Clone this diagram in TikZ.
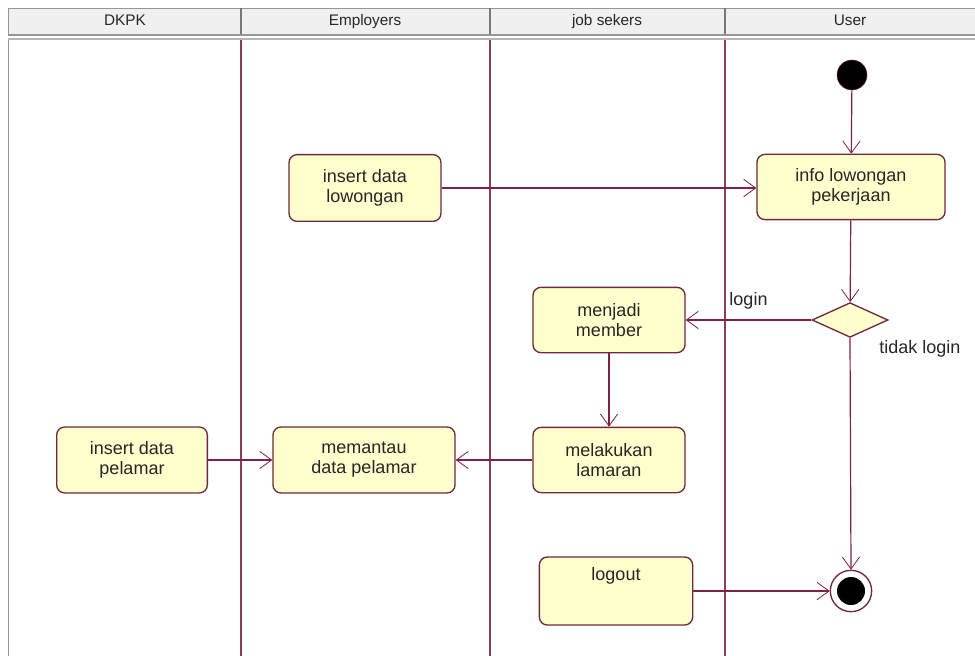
\documentclass[tikz,border=0pt]{standalone}
\usepackage{fontspec}
\setmainfont{Liberation Sans}
\usetikzlibrary{shapes.geometric,arrows.meta}
\definecolor{boxfill}{RGB}{255,255,205}
\definecolor{boxdraw}{RGB}{112,40,62}
\definecolor{flow}{RGB}{128,32,72}
\definecolor{lane}{RGB}{140,60,90}
\definecolor{headfill}{RGB}{240,240,240}
\definecolor{headdraw}{RGB}{150,150,150}
\tikzset{
  act/.style={draw=boxdraw, fill=boxfill, rounded corners=6pt, line width=1pt,
    align=center, inner sep=0pt, font=\fontsize{13.5}{15}\selectfont, text=black!85},
  flowarrow/.style={draw=flow, line width=0.9pt, -{Straight Barb[length=9pt,width=13pt,line width=0.6pt]}},
  lanetitle/.style={font=\fontsize{11.5}{13}\selectfont, text=black!85, text height=8.5pt, text depth=2.5pt, inner sep=0pt},
  lbl/.style={font=\fontsize{13.5}{15}\selectfont, text=black!85},
}
\begin{document}
\begin{tikzpicture}[x=0.75pt,y=-0.75pt]
\useasboundingbox (0,0) rectangle (975,656);
\fill[white] (0,0) rectangle (975,656);
% header
\fill[headfill] (8,8) rectangle (975,35);
\draw[headdraw, line width=0.6pt] (975,8) -- (8,8) -- (8,35);
\foreach \xx in {241,490,725} \draw[headdraw!80!black, line width=1pt] (\xx,8) -- (\xx,35);
\draw[headdraw, line width=1.5pt] (8,35.5) -- (975,35.5);
\draw[headdraw!70, line width=1pt] (8,39) -- (975,39);
\node[lanetitle] (hA) at (125,22) {DKPK};
\node[lanetitle] (hB) at (365,22) {Employers};
\node[lanetitle] (hC) at (607,22) {job sekers};
\node[lanetitle] (hD) at (850,22) {User};
% lanes
\draw[headdraw, line width=0.6pt] (8,40) -- (8,656);
\foreach \xx in {241,490,725} \draw[lane, line width=0.8pt] (\xx,40) -- (\xx,656);
% nodes
\node[circle, fill=black, draw=boxdraw, minimum size=22.5pt, inner sep=0pt] (start) at (852,75) {};
\node[act, minimum width=141pt, minimum height=49pt] (info) at (851,187) {info lowongan\\pekerjaan};
\node[act, minimum width=114pt, minimum height=50pt] (inslow) at (365,188) {insert data\\lowongan};
\node[diamond, draw=boxdraw, fill=boxfill, line width=1pt, minimum width=57pt, minimum height=26pt, inner sep=0pt] (dec) at (850,320) {};
\node[act, minimum width=114pt, minimum height=49pt] (member) at (609,320) {menjadi\\member};
\node[act, minimum width=114pt, minimum height=49pt] (lamar) at (609,460) {melakukan\\lamaran};
\node[act, minimum width=136.5pt, minimum height=49.5pt] (pantau) at (364,460) {memantau\\data pelamar};
\node[act, minimum width=113pt, minimum height=49.5pt] (inspel) at (132,460) {insert data\\pelamar};
\node[act, minimum width=115pt, minimum height=51pt,
  label={[anchor=north, yshift=-5pt, lbl]north:logout}] (logout) at (616,591) {};
\node[circle, draw=boxdraw, fill=white, line width=1pt, minimum size=31pt, inner sep=0pt] (end) at (851,591) {};
\node[circle, fill=black, minimum size=21pt, inner sep=0pt] (endin) at (851,591) {};
% connectors
\draw[flowarrow] (start) -- (info);
\draw[flowarrow] (inslow.east |- 0,188) -- (info.west |- 0,188);
\draw[flowarrow] (info) -- (dec);
\draw[flowarrow] (dec.west) -- (member.east)
  node[lbl, pos=0.5, above=4pt] (lg) {login};
\draw[flowarrow] (dec.south) -- (end.north);
\node[lbl] (tl) at (920,349) {tidak login};
\draw[flowarrow] (member) -- (lamar);
\draw[flowarrow] (lamar) -- (pantau);
\draw[flowarrow] (inspel) -- (pantau);
\draw[flowarrow] (logout) -- (end);
\end{tikzpicture}
\end{document}
